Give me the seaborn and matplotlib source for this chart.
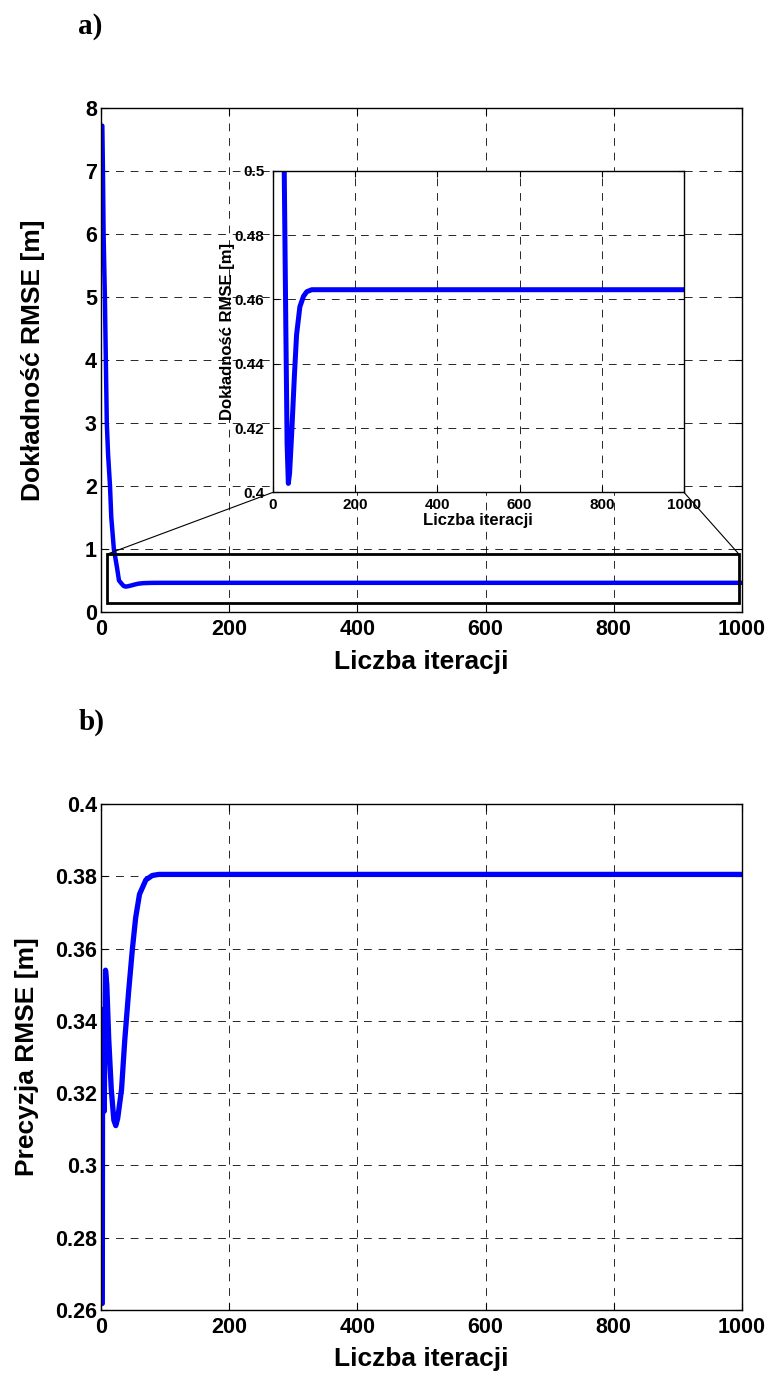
"""Convergence of RMSE accuracy (a) and precision (b) vs. iteration count."""

import matplotlib

matplotlib.use("Agg")
import matplotlib.pyplot as plt
import matplotlib.ticker as mticker
from matplotlib.patches import ConnectionPatch, Rectangle
import seaborn as sns

# Data
acc_iter = [2, 3, 4, 6, 7.5, 9, 11, 14, 16, 20, 25, 28, 32, 35, 38, 41, 46, 53, 58, 66, 75, 83, 95, 1000]
acc_rmse = [7.72, 7.0, 6.0, 5.0, 4.0, 3.0, 2.5, 2.0, 1.5, 1.0, 0.7, 0.5, 0.45, 0.415, 0.4028,
            0.406, 0.418, 0.437, 0.449, 0.4577, 0.461, 0.4624, 0.463, 0.463]

prec_iter = [2, 2.5, 5, 7, 9, 12, 16, 20, 23, 26, 32, 37, 43, 49, 54, 60, 70, 80, 90, 1000]
prec_rmse = [0.2618, 0.343, 0.315, 0.354, 0.35, 0.335, 0.321, 0.3125, 0.311, 0.313, 0.321,
             0.3346, 0.348, 0.36, 0.3685, 0.375, 0.379, 0.3802, 0.3805, 0.3805]

x_ticks = [0, 200, 400, 600, 800, 1000]
acc_yticks = [0, 1, 2, 3, 4, 5, 6, 7, 8]
inset_yticks = [0.4, 0.42, 0.44, 0.46, 0.48, 0.5]
prec_yticks = [0.26, 0.28, 0.3, 0.32, 0.34, 0.36, 0.38, 0.4]
zoom_box_x = [10, 995]
zoom_box_y = [0.14, 0.92]

XLABEL = "Liczba iteracji"
ACC_LABEL = "Dokładność RMSE [m]"
PREC_LABEL = "Precyzja RMSE [m]"

sns.set_style("white")
plt.rcParams.update({
    "font.family": ["Liberation Sans", "DejaVu Sans"],
    "font.weight": "bold",
    "axes.labelweight": "bold",
    "axes.edgecolor": "black",
    "axes.linewidth": 1.0,
    "text.color": "black",
    "axes.labelcolor": "black",
    "xtick.direction": "in",
    "ytick.direction": "in",
    "xtick.color": "black",
    "ytick.color": "black",
    "xtick.labelcolor": "black",
    "ytick.labelcolor": "black",
})

BLUE = "#0000ff"
GRID = dict(color="black", linestyle=(0, (8, 7)), linewidth=0.7, alpha=0.85)


def style_axes(ax, xsize, ysize, xpad, ypad, ticklen=5):
    ax.set_xlim(0, 1000)
    ax.set_xticks(x_ticks)
    ax.grid(True, **GRID)
    ax.tick_params(axis="x", labelsize=xsize, pad=xpad, length=ticklen,
                   top=True, bottom=True)
    ax.tick_params(axis="y", labelsize=ysize, pad=ypad, length=ticklen,
                   left=True, right=True)
    ax.yaxis.set_major_formatter(mticker.FuncFormatter(lambda v, _: f"{v:g}"))
    for lab in ax.get_xticklabels() + ax.get_yticklabels():
        lab.set_fontweight("bold")
    for sp in ax.spines.values():
        sp.set_visible(True)
        sp.set_color("black")


fig = plt.figure(figsize=(7.73, 13.74), dpi=100)

# ---- a) accuracy ----
ax1 = fig.add_axes([0.1307, 0.5546, 0.8292, 0.3668])
sns.lineplot(x=acc_iter, y=acc_rmse, ax=ax1, color=BLUE, linewidth=3.2)
ax1.set_ylim(0, 8)
ax1.set_yticks(acc_yticks)
style_axes(ax1, 15.5, 15.5, 5, 3)
ax1.set_xlabel(XLABEL, fontsize=19, fontweight="bold")
ax1.set_ylabel(ACC_LABEL, fontsize=19, fontweight="bold")
ax1.yaxis.set_label_coords(-0.088, 0.5)
ax1.xaxis.set_label_coords(0.5, -0.075)

box = Rectangle((zoom_box_x[0], zoom_box_y[0]), zoom_box_x[1] - zoom_box_x[0],
                zoom_box_y[1] - zoom_box_y[0], fill=False, edgecolor="black",
                linewidth=2.0, zorder=5)
ax1.add_patch(box)

# inset
axin = fig.add_axes([0.3528, 0.6416, 0.5321, 0.2342])
sns.lineplot(x=acc_iter, y=acc_rmse, ax=axin, color=BLUE, linewidth=3.6)
axin.set_ylim(0.4, 0.5)
axin.set_yticks(inset_yticks)
style_axes(axin, 11, 11, 4, 6, ticklen=4)
axin.set_xlabel(XLABEL, fontsize=12, fontweight="bold", labelpad=1)
axin.set_ylabel(ACC_LABEL, fontsize=12, fontweight="bold", labelpad=0)

for xa, xb in [(zoom_box_x[0], 0), (zoom_box_x[1], 1000)]:
    con = ConnectionPatch(xyA=(xa, zoom_box_y[1]), coordsA=ax1.transData,
                          xyB=(xb, 0.4), coordsB=axin.transData,
                          color="black", linewidth=0.8, zorder=6)
    fig.add_artist(con)

# ---- b) precision ----
ax2 = fig.add_axes([0.1307, 0.0466, 0.8292, 0.3683])
sns.lineplot(x=prec_iter, y=prec_rmse, ax=ax2, color=BLUE, linewidth=3.8)
ax2.set_ylim(0.26, 0.4)
ax2.set_yticks(prec_yticks)
style_axes(ax2, 15.5, 15.5, 5, 3)
ax2.set_xlabel(XLABEL, fontsize=19, fontweight="bold")
ax2.set_ylabel(PREC_LABEL, fontsize=19, fontweight="bold")
ax2.yaxis.set_label_coords(-0.097, 0.5)
ax2.xaxis.set_label_coords(0.5, -0.073)

serif = ["Liberation Serif", "DejaVu Serif"]
fig.text(90 / 773, 1 - 27 / 1374, "a)", family=serif, fontsize=21,
         fontweight="bold", ha="center", va="center")
fig.text(92 / 773, 1 - 722 / 1374, "b)", family=serif, fontsize=21,
         fontweight="bold", ha="center", va="center")

fig.savefig("out.png", dpi=100)
